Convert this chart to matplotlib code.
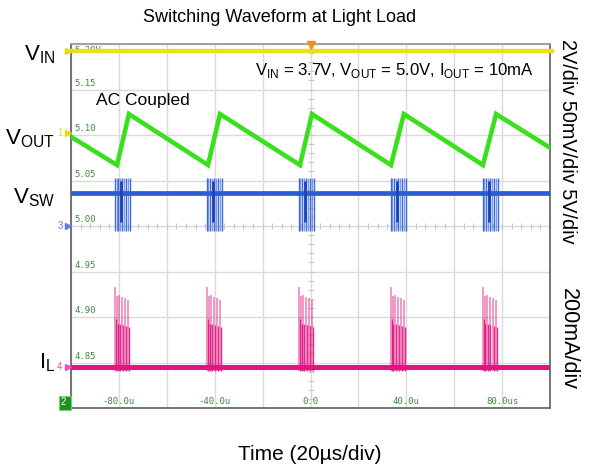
import matplotlib
matplotlib.use('Agg')
import matplotlib.pyplot as plt
from matplotlib.patches import Rectangle
import numpy as np

plt.rcParams['font.family'] = ['Liberation Sans', 'DejaVu Sans']
plt.rcParams['mathtext.fontset'] = 'custom'
plt.rcParams['mathtext.rm'] = 'Liberation Sans'

# scope graticule: time in us (20us/div), vertical in the scope's 50mV/div units
x_ticks = [-80, -40, 0, 40, 80]
x_tick_labels = ['-80.0u', '-40.0u', '0.0', '40.0u', '80.0us']
y_grid = [5.20, 5.15, 5.10, 5.05, 5.00, 4.95, 4.90, 4.85]
y_grid_labels = ['5.20V', '5.15', '5.10', '5.05', '5.00', '4.95', '4.90', '4.85']

# VIN (yellow) - flat
vin_level = 5.192

# VOUT (green, AC coupled) - sawtooth vertices
vout_t = [-100, -80.8, -75.8, -42.8, -37.8, -4.4, 0.6, 33.6, 39.0, 72.0, 77.5, 100]
vout_v = [5.098, 5.067, 5.123, 5.067, 5.123, 5.067, 5.123, 5.067, 5.123, 5.067, 5.123, 5.086]

# switching bursts
burst_start = [-81.6, -43.2, -4.8, 33.6, 72.0]

# VSW (blue)
vsw_base = 5.036
vsw_offset = [0.0, 0.6, 1.4, 2.1, 2.9, 3.8, 4.6, 5.5, 6.2]
vsw_high = 5.053
vsw_low = 4.994

# IL (pink)
il_base = 4.845
il_offset = [0.0, 0.7, 1.8, 2.8, 4.2, 5.6]
il_peak = [4.933, 4.923, 4.924, 4.922, 4.921, 4.919]
il_low = 4.841

c_vin = '#ebe01c'
c_vout = '#3ae01e'
c_vsw = '#2b5cd8'
c_il = '#e2147f'
c_lbl = '#3d8b3d'

W, H = 595, 471
def px(x, y):
    return x / W, 1 - y / H

fig = plt.figure(figsize=(5.95, 4.71), dpi=100)
ax = fig.add_axes([71 / W, 1 - 408 / H, 479 / W, 364 / H])
ax.set_xlim(-100, 100)
ax.set_ylim(4.80, 5.20)
ax.set_xticks(np.arange(-100, 101, 20))
ax.set_yticks(np.arange(4.80, 5.201, 0.05))
ax.tick_params(length=0, labelbottom=False, labelleft=False)
ax.grid(True, color='#dadada', lw=1.0)
ax.spines['top'].set_color('#9a9a9a')
for s in ['left', 'bottom', 'right']:
    ax.spines[s].set_color('#6a6a6a')
for s in ax.spines.values():
    s.set_linewidth(1.3)

# centre crosshair minor ticks
mt = np.arange(-100, 100.1, 4)
ax.plot(mt, [5.0] * len(mt), ls='none', marker='|', ms=4, color='#c8c8c8', mew=0.8)
mv = np.arange(4.80, 5.2, 0.01)
ax.plot([0] * len(mv), mv, ls='none', marker='_', ms=4, color='#c8c8c8', mew=0.8)

# graticule labels
for y, lab in zip(y_grid, y_grid_labels):
    if lab.endswith('V'):
        ax.text(-98.5, y - 0.002, lab, color=c_lbl, fontsize=6.5, family='DejaVu Sans Mono', va='top')
    else:
        ax.text(-98.5, y + 0.002, lab, color=c_lbl, fontsize=6.5, family='DejaVu Sans Mono', va='bottom')
for x, lab in zip(x_ticks, x_tick_labels):
    ax.text(x, 4.8066, lab, color=c_lbl, fontsize=6.5, family='DejaVu Sans Mono', ha='center', va='center')

# traces
ax.plot([-100, 101], [vin_level, vin_level], color=c_vin, lw=3.2, clip_on=False, zorder=4)
ax.plot(vout_t, vout_v, color=c_vout, lw=3.3, zorder=4, solid_joinstyle='miter')

ax.plot([-100, 100], [vsw_base, vsw_base], color=c_vsw, lw=3.4, zorder=3)
for b in burst_start:
    for i, o in enumerate(vsw_offset):
        ax.vlines(b + o, vsw_low, vsw_high, color=c_vsw, lw=1.0, alpha=0.6 if i % 2 else 0.9, zorder=3)
    ax.vlines(b + 2.5, vsw_low + 0.01, vsw_high - 0.004, color='#1c45b8', lw=2.0, zorder=3)

ax.plot([-100, 100], [il_base, il_base], color=c_il, lw=3.6, zorder=3)
for b in burst_start:
    for i, (o, p) in enumerate(zip(il_offset, il_peak)):
        ax.vlines(b + o, il_low, p, color=c_il, lw=1.1, alpha=0.55, zorder=3)
        ax.vlines(b + o + 0.35, il_low, il_base + (p - il_base) * 0.6, color=c_il, lw=1.0, alpha=0.9, zorder=3)

# trigger marker
ax.plot([0], [5.199], marker='v', ms=6, color='#f0921c', clip_on=False, zorder=5)

# channel markers on the left
for y, col, d in [(5.192, '#e6dc10', ''), (5.102, '#e6dc10', '1'), (5.00, '#5a7fe6', '3'), (4.845, '#f050b0', '4')]:
    ax.plot([-101.3], [y], marker='>', ms=4, color=col, clip_on=False, zorder=5)
    if d:
        ax.text(-103.5, y, d, color=col, fontsize=7, ha='right', va='center', clip_on=False)

# channel 2 box bottom-left
fig.add_artist(Rectangle(px(59, 410), 12 / W, 14 / H, transform=fig.transFigure,
                         fc='#1f8f1f', ec='#6ad86a', lw=0.8))
fig.text(*px(63, 402), '2', color='white', fontsize=7, ha='center', va='center')

# texts
fig.text(*px(280, 18), 'Switching Waveform at Light Load', fontsize=13, ha='center', va='center')
fig.text(*px(310, 455), 'Time (20µs/div)', fontsize=15, ha='center', va='center')
fig.text(*px(394, 70), r'V$_{\mathregular{IN}}$ = 3.7V, V$_{\mathregular{OUT}}$ = 5.0V, I$_{\mathregular{OUT}}$ = 10mA',
         fontsize=12.1, ha='center', va='center')
fig.text(*px(143, 101), 'AC Coupled', fontsize=12.5, ha='center', va='center')

fig.text(*px(55, 60), r'V$_{\mathregular{IN}}$', fontsize=16, ha='right', va='baseline')
fig.text(*px(55, 144), r'V$_{\mathregular{OUT}}$', fontsize=16, ha='right', va='baseline')
fig.text(*px(55, 203), r'V$_{\mathregular{SW}}$', fontsize=16, ha='right', va='baseline')
fig.text(*px(55, 368), r'I$_{\mathregular{L}}$', fontsize=16, ha='right', va='baseline')

fig.text(*px(568, 141), '2V/div 50mV/div 5V/div', fontsize=14.3, rotation=-90, ha='center', va='center')
fig.text(*px(568, 339), '200mA/div', fontsize=15.5, rotation=-90, ha='center', va='center')

fig.savefig('out.png', dpi=100)
